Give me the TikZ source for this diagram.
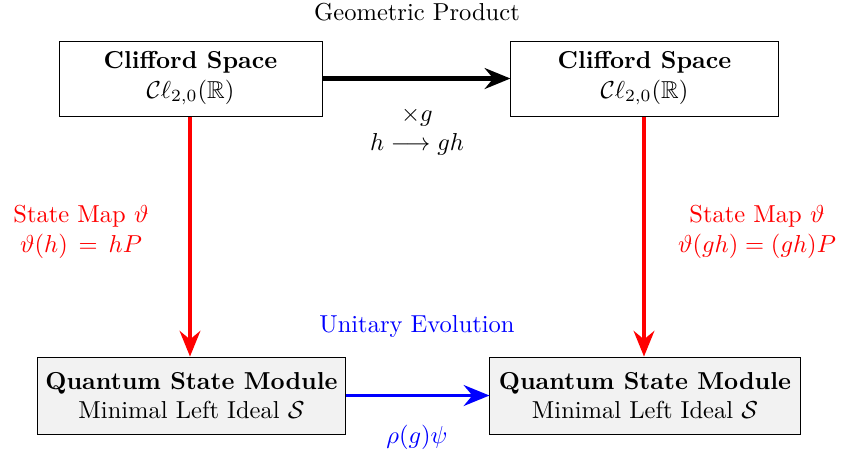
\documentclass[tikz,border=0pt]{standalone}
\usepackage{amsmath,amssymb}
\usetikzlibrary{arrows.meta}
\definecolor{boxgray}{HTML}{F2F2F2}
\tikzset{
  cbox/.style={draw, thin, align=center, inner sep=0pt},
  qbox/.style={draw, thin, fill=boxgray, align=center, inner sep=0pt},
  tipshape/.style={-{Stealth[length=10.5pt,width=8.5pt,inset=3.5pt]}},
  blackarrow/.style={tipshape, line width=1.8pt},
  redarrow/.style={red, tipshape, line width=1.3pt},
  bluearrow/.style={blue, tipshape, line width=1.5pt},
  lbl/.style={align=center, inner sep=0pt}
}
\begin{document}
\begin{tikzpicture}[x=0.408pt,y=-0.408pt]
\useasboundingbox (0,0) rectangle (842,456);
\node[cbox, minimum width=107.3pt, minimum height=30.6pt] (c1) at (190.5,78.5) {\textbf{Clifford Space}\\$\mathcal{C}\ell_{2,0}(\mathbb{R})$};
\node[cbox, minimum width=109pt, minimum height=30.6pt] (c2) at (644.5,78.5) {\textbf{Clifford Space}\\$\mathcal{C}\ell_{2,0}(\mathbb{R})$};
\node[qbox, minimum width=126pt, minimum height=31.4pt] (q1) at (191.5,395.5) {\textbf{Quantum State Module}\\Minimal Left Ideal $\mathcal{S}$};
\node[qbox, minimum width=126.5pt, minimum height=31.4pt] (q2) at (645,395.5) {\textbf{Quantum State Module}\\Minimal Left Ideal $\mathcal{S}$};
\draw[blackarrow] (c1.east) -- (c2.west);
\draw[redarrow] (c1.south -| 190,0) -- (q1.north -| 190,0);
\draw[redarrow] (c2.south -| 644,0) -- (q2.north -| 644,0);
\draw[bluearrow] (q1.east) -- (q2.west);
\node[lbl] (gp) at (417,12) {Geometric Product};
\node[lbl] (xg) at (417,131) {$\times g$\\$h \longrightarrow gh$};
\node[lbl, red] (sl) at (81,232) {State Map $\vartheta$\\$\vartheta(h)\,=\,hP$};
\node[lbl, red] (sr) at (757,232) {State Map $\vartheta$\\$\vartheta(gh) = (gh)P$};
\node[lbl, blue] (ue) at (417,326) {Unitary Evolution};
\node[lbl, blue] (rg) at (417,437) {$\rho(g)\psi$};
\end{tikzpicture}
\end{document}
